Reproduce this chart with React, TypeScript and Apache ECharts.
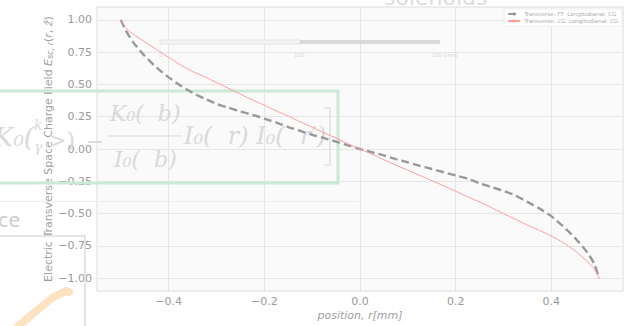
import React, { useEffect, useRef } from "react";
import * as echarts from "echarts";

const positions = [
  -0.5, -0.49, -0.475, -0.45, -0.425, -0.4, -0.375, -0.35, -0.325, -0.3, -0.275, -0.25, -0.225, -0.2, -0.175,
  -0.15, -0.125, -0.1, -0.075, -0.05, -0.025, 0, 0.025, 0.05, 0.075, 0.1, 0.125, 0.15, 0.175, 0.2, 0.225,
  0.25, 0.275, 0.3, 0.325, 0.35, 0.375, 0.4, 0.425, 0.45, 0.475, 0.49, 0.5,
];
const fieldFT = [
  1.0, 0.92, 0.83, 0.72, 0.63, 0.555, 0.49, 0.435, 0.39, 0.35, 0.32, 0.29, 0.265, 0.235, 0.205,
  0.17, 0.14, 0.11, 0.085, 0.057, 0.028, 0, -0.025, -0.05, -0.078, -0.103, -0.13, -0.155, -0.18, -0.205, -0.23,
  -0.265, -0.295, -0.325, -0.36, -0.41, -0.46, -0.52, -0.6, -0.69, -0.8, -0.89, -1.0,
];
const fieldCG = [
  1.0, 0.94, 0.89, 0.83, 0.77, 0.71, 0.65, 0.6, 0.56, 0.515, 0.47, 0.425, 0.38, 0.34, 0.295,
  0.255, 0.21, 0.17, 0.125, 0.085, 0.04, 0, -0.04, -0.083, -0.125, -0.165, -0.205, -0.245, -0.285, -0.327, -0.37,
  -0.41, -0.455, -0.5, -0.545, -0.59, -0.63, -0.675, -0.725, -0.79, -0.87, -0.93, -1.0,
];
const xTicks = [-0.4, -0.2, 0, 0.2, 0.4];
const yTicks = [-1, -0.75, -0.5, -0.25, 0, 0.25, 0.5, 0.75, 1];
const seriesNames = ["Transverse: FT  Longitudianal: CG", "Transverse: CG  Longitudianal: CG"];

const fmt = (v: number, d: number) => {
  const s = Math.abs(v).toFixed(d);
  return v < -1e-9 ? "\u2212" + s : s;
};

export default function App() {
  const ref = useRef<HTMLDivElement>(null);
  useEffect(() => {
    if (!ref.current) return;
    const chart = echarts.init(ref.current, null, { renderer: "svg" });
    const faint = "#d9d9d9";
    const serif = "DejaVu Serif";
    chart.setOption({
      animation: false,
      backgroundColor: "#ffffff",
      textStyle: { fontFamily: "DejaVu Sans" },
      grid: {
        left: 97,
        top: 7,
        right: 2,
        bottom: 32,
        show: true,
        backgroundColor: "#fafafa",
        borderColor: "#dcdcdc",
        borderWidth: 1,
      },
      legend: {
        orient: "vertical",
        right: 3,
        top: 9,
        itemWidth: 12,
        itemHeight: 4,
        itemGap: 1,
        padding: [2, 4, 2, 3],
        backgroundColor: "#ffffff",
        borderColor: "#eeeeee",
        borderWidth: 1,
        textStyle: { fontSize: 5.5, color: "#aaaaaa", padding: [0, 0, 0, -1] },
        data: seriesNames,
      },
      xAxis: {
        type: "value",
        min: -0.55,
        max: 0.55,
        axisLine: { show: false },
        axisTick: { show: false, customValues: xTicks },
        splitLine: { show: true, lineStyle: { color: "#e6e6e6", width: 1 } },
        axisLabel: {
          customValues: xTicks,
          formatter: (v: number) => fmt(v, 1),
          color: "#9a9a9a",
          fontSize: 11,
          margin: 4,
          lineHeight: 12,
        },
        name: "position, r[mm]",
        nameLocation: "middle",
        nameGap: 18,
        nameMoveOverlap: false,
        nameTextStyle: { fontSize: 11, color: "#a0a0a0", fontStyle: "italic", lineHeight: 12 },
      },
      yAxis: {
        type: "value",
        min: -1.1,
        max: 1.1,
        axisLine: { show: false },
        axisTick: { show: false, customValues: yTicks },
        splitLine: { show: true, lineStyle: { color: "#e6e6e6", width: 1 } },
        axisLabel: {
          customValues: yTicks,
          formatter: (v: number) => fmt(v, 2),
          color: "#9a9a9a",
          fontSize: 11,
          margin: 5,
        },
        name:
          "{a|Electric Transverse Space Charge Field }{i|E}{s|sc, r}{a|(}{i|r}{a|, }{i|\u1e91}{a|)}",
        nameLocation: "middle",
        nameGap: 43,
        nameMoveOverlap: false,
        nameTextStyle: {
          color: "#a0a0a0",
          fontSize: 11,
          rich: {
            a: { fontSize: 11, color: "#a0a0a0" },
            i: { fontSize: 11, color: "#a0a0a0", fontStyle: "italic" },
            s: { fontSize: 8, color: "#a0a0a0", fontStyle: "italic", padding: [4, 0, 0, 0] },
          },
        },
      },
      graphic: [
        {
          type: "text",
          silent: true,
          z: 1,
          left: 384,
          top: -14,
          style: { text: "solenoids", fontSize: 22, fill: "#dddddd", fontFamily: "DejaVu Sans" },
        },
        { type: "rect", silent: true, z: 1, shape: { x: 160, y: 40, width: 140, height: 4 }, style: { fill: "#f4f4f4", stroke: "#e2e2e2", lineWidth: 1 } },
        { type: "rect", silent: true, z: 1, shape: { x: 300, y: 40, width: 140, height: 4 }, style: { fill: "#dadada" } },
        { type: "text", silent: true, z: 1, x: 159, y: 52, style: { text: "0", fontSize: 6, fill: faint } },
        { type: "text", silent: true, z: 1, x: 294, y: 52, style: { text: "100", fontSize: 6, fill: faint } },
        { type: "text", silent: true, z: 1, x: 432, y: 52, style: { text: "200 (mm)", fontSize: 6, fill: faint } },
        {
          type: "rect",
          silent: true,
          z: 1,
          shape: { x: -4, y: 91, width: 342, height: 92 },
          style: { fill: "none", stroke: "#cbe9d6", lineWidth: 3 },
        },
        { type: "text", silent: true, z: 1, x: -6, y: 124, style: { text: "K\u2080(", fontSize: 26, fill: faint, fontFamily: serif, fontStyle: "italic" } },
        { type: "text", silent: true, z: 1, x: 34, y: 118, style: { text: "k", fontSize: 14, fill: faint, fontFamily: serif, fontStyle: "italic" } },
        { type: "text", silent: true, z: 1, x: 34, y: 140, style: { text: "\u03b3", fontSize: 14, fill: faint, fontFamily: serif, fontStyle: "italic" } },
        { type: "text", silent: true, z: 1, x: 48, y: 129, style: { text: ">)", fontSize: 22, fill: faint, fontFamily: serif } },
        { type: "text", silent: true, z: 1, x: 86, y: 130, style: { text: "\u2212", fontSize: 22, fill: faint, fontFamily: serif } },
        { type: "text", silent: true, z: 1, x: 110, y: 102, style: { text: "K\u2080(\u00a0\u00a0b)", fontSize: 22, fill: faint, fontFamily: serif, fontStyle: "italic" } },
        { type: "line", silent: true, z: 1, shape: { x1: 108, y1: 136, x2: 182, y2: 136 }, style: { stroke: faint, lineWidth: 1 } },
        { type: "text", silent: true, z: 1, x: 114, y: 148, style: { text: "I\u2080(\u00a0\u00a0b)", fontSize: 22, fill: faint, fontFamily: serif, fontStyle: "italic" } },
        { type: "text", silent: true, z: 1, x: 184, y: 124, style: { text: "I\u2080(\u00a0\u00a0r) I\u2080(\u00a0\u00a0r\u2032)", fontSize: 24, fill: faint, fontFamily: serif, fontStyle: "italic" } },
        { type: "polyline", silent: true, z: 1, shape: { points: [[324, 108], [330, 108], [330, 165], [324, 165]] }, style: { stroke: faint, lineWidth: 1.2, fill: "none" } },
        { type: "line", silent: true, z: 1, shape: { x1: 0, y1: 201.5, x2: 359, y2: 201.5 }, style: { stroke: "#ededed", lineWidth: 1 } },
        { type: "text", silent: true, z: 1, x: -2, y: 210, style: { text: "ce", fontSize: 19, fill: "#cccccc", fontFamily: "DejaVu Sans" } },
        { type: "polyline", silent: true, z: 1, shape: { points: [[0, 236], [85, 236], [85, 326]] }, style: { stroke: "#e4e4e4", lineWidth: 2, fill: "none" } },
        { type: "polyline", silent: true, z: 1, shape: { points: [[18, 326], [35, 312], [52, 298], [66, 291], [69, 292]] }, style: { stroke: "#fde3c2", lineWidth: 8, lineCap: "round", lineJoin: "round", fill: "none" } },
      ],
      series: [
        {
          name: seriesNames[0],
          type: "line",
          data: positions.map((x, i) => [x, fieldFT[i]]),
          symbol: "none",
          smooth: 0.2,
          z: 3,
          lineStyle: { color: "#999999", width: 2.4, type: [8, 4] },
          itemStyle: { color: "#999999" },
        },
        {
          name: seriesNames[1],
          type: "line",
          data: positions.map((x, i) => [x, fieldCG[i]]),
          symbol: "none",
          smooth: 0.2,
          z: 4,
          lineStyle: { color: "#ff9c9c", width: 1 },
          itemStyle: { color: "#ff9c9c" },
        },
      ],
    });
    return () => chart.dispose();
  }, []);
  return <div ref={ref} style={{ width: 625, height: 326, position: "fixed", left: 0, top: 0 }} />;
}
